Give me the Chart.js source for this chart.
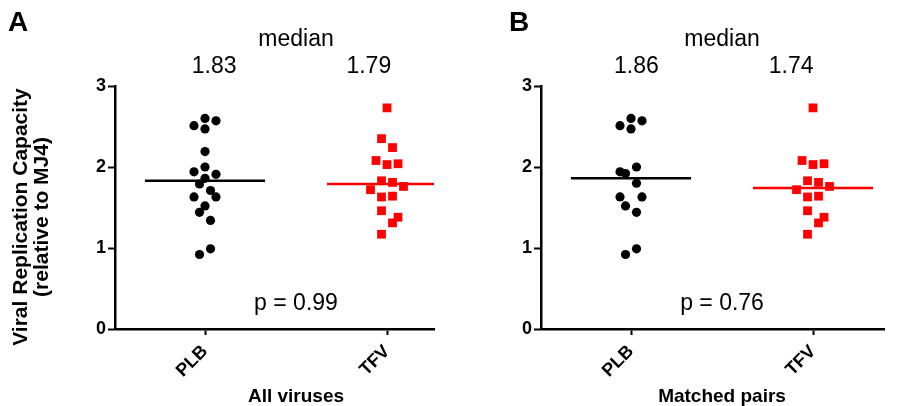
<!DOCTYPE html>
<html>
<head>
<meta charset="utf-8">
<script src="https://cdn.jsdelivr.net/npm/chart.js@4/dist/chart.umd.min.js"></script>
<style>
  body { margin: 0; background: #fff; }
  #wrap { position: relative; width: 901px; height: 406px; }
  #wrap canvas { position: absolute; top: 0; }
</style>
</head>
<body>
<div id="wrap">
  <canvas id="chartA" width="450" height="406" style="left:0"></canvas>
  <canvas id="chartB" width="451" height="406" style="left:450px"></canvas>
</div>
<script>
// categories
var groups = ["PLB", "TFV"];

// panel A: all viruses
var allPLB = [2.60, 2.51, 2.57, 2.47, 2.19, 2.00, 1.94, 1.91, 1.86, 1.79, 1.71, 1.63, 1.63, 1.52, 1.44, 1.34, 0.99, 0.92];
var allPLBjit = [0, -2, 2, 0, 0, 0, -2, 2, 0, -1, 1, -2, 2, 0, -1, 1, 1, -1];
var allTFV = [2.73, 2.35, 2.24, 2.08, 2.03, 2.04, 1.83, 1.81, 1.76, 1.72, 1.63, 1.64, 1.46, 1.38, 1.31, 1.17];
var allTFVjit = [0, -1, 1, -2, 0, 2, -1, 1, 3, -3, -1, 1, -1, 2, 1, -1];
var allMedians = [1.83, 1.79];
var allP = "p = 0.99";

// panel B: matched pairs
var pairPLB = [2.60, 2.51, 2.57, 2.47, 1.94, 1.92, 2.00, 1.80, 1.63, 1.63, 1.52, 1.44, 0.99, 0.92];
var pairPLBjit = [0, -2, 2, 0, -2, -1, 1, 1, -2, 2, -1, 1, 1, -1];
var pairTFV = [2.73, 2.08, 2.03, 2.04, 1.83, 1.81, 1.76, 1.72, 1.63, 1.64, 1.46, 1.38, 1.31, 1.17];
var pairTFVjit = [0, -2, 0, 2, -1, 1, 3, -3, -1, 1, -1, 2, 1, -1];
var pairMedians = [1.86, 1.74];
var pairP = "p = 0.76";

var yTicks = [0, 1, 2, 3];
var colors = ["#000000", "#ff0000"];
var JIT = 0.0302;   // half-slot width in category units
var HALF = 0.33;    // median bar half width
var FONT = "'Liberation Sans', Arial, sans-serif";

function pts(vals, jit, cat) {
  return vals.map(function (v, i) { return { x: cat + jit[i] * JIT, y: v }; });
}

function medianLine(m, cat) {
  return [{ x: cat - HALF, y: m }, { x: cat + HALF, y: m }];
}

var textPlugin = {
  id: "texts",
  afterDraw: function (chart) {
    var o = chart.options.plugins.texts;
    var ctx = chart.ctx;
    var xs = chart.scales.x, ys = chart.scales.y;
    var mid = (xs.getPixelForValue(0) + xs.getPixelForValue(1)) / 2;
    ctx.save();
    ctx.fillStyle = "#000";
    ctx.textAlign = "center";
    ctx.textBaseline = "middle";
    ctx.font = "23px " + FONT;
    ctx.fillText("median", mid, 40);
    o.medians.forEach(function (m, i) {
      ctx.fillText(m.toFixed(2), xs.getPixelForValue(i + o.valShift[i]), 67);
    });
    ctx.fillText(o.p, mid, ys.getPixelForValue(0.31));
    ctx.font = "bold 19px " + FONT;
    ctx.fillText(o.xTitle, mid, 397);
    ctx.font = "bold 28px " + FONT;
    ctx.textAlign = "left";
    ctx.fillText(o.letter, o.letterX, 23);
    if (o.yTitle) {
      ctx.font = "bold 21px " + FONT;
      ctx.textAlign = "center";
      ctx.translate(0, 217);
      ctx.rotate(-Math.PI / 2);
      ctx.fillText(o.yTitle[0], 0, 21);
      ctx.fillText(o.yTitle[1], 0, 42);
    }
    ctx.restore();
  }
};

function makeChart(id, a, b, aj, bj, medians, p, opts) {
  new Chart(document.getElementById(id), {
    type: "scatter",
    data: {
      datasets: [
        { data: pts(a, aj, 0), pointStyle: "circle", pointRadius: 4.6, backgroundColor: colors[0], borderWidth: 0 },
        { data: pts(b, bj, 1), pointStyle: "rect", pointRadius: 6.2, backgroundColor: colors[1], borderWidth: 0 },
        { type: "line", data: medianLine(medians[0], 0), borderColor: colors[0], borderWidth: 2.5, pointRadius: 0 },
        { type: "line", data: medianLine(medians[1], 1), borderColor: colors[1], borderWidth: 2.5, pointRadius: 0 }
      ]
    },
    options: {
      responsive: false,
      animation: false,
      layout: { padding: { top: 86, right: opts.right, bottom: 0, left: 0 } },
      plugins: {
        legend: { display: false },
        tooltip: { enabled: false },
        texts: {
          medians: medians, p: p, xTitle: opts.xTitle, letter: opts.letter,
          letterX: opts.letterX, yTitle: opts.yTitle, valShift: opts.valShift
        }
      },
      scales: {
        x: {
          type: "linear",
          min: -0.4945,
          max: opts.xmax,
          afterBuildTicks: function (s) { s.ticks = [{ value: 0 }, { value: 1 }]; },
          afterFit: function (s) { s.height = 77; },
          ticks: {
            callback: function (v) { return groups[v]; },
            color: "#000",
            font: { family: FONT, size: 18, weight: "bold" },
            minRotation: 45,
            maxRotation: 45,
            padding: 6
          },
          grid: { display: true, drawOnChartArea: false, drawTicks: true, tickLength: 6, tickWidth: 2, tickColor: "#000" },
          border: { display: true, color: "#000", width: 2.5 }
        },
        y: {
          min: 0,
          max: 3,
          afterBuildTicks: function (s) { s.ticks = yTicks.map(function (v) { return { value: v }; }); },
          afterFit: function (s) { s.width = opts.left; },
          ticks: {
            color: "#000",
            font: { family: FONT, size: 18, weight: "bold" },
            padding: 2
          },
          grid: { display: true, drawOnChartArea: false, drawTicks: true, tickLength: 7, tickWidth: 2, tickColor: "#000" },
          border: { display: true, color: "#000", width: 2.5 }
        }
      }
    },
    plugins: [textPlugin]
  });
}

makeChart("chartA", allPLB, allTFV, allPLBjit, allTFVjit, allMedians, allP, {
  left: 115, right: 16, xmax: 1.2582, xTitle: "All viruses", letter: "A", letterX: 8,
  yTitle: ["Viral Replication Capacity", "(relative to MJ4)"], valShift: [0.05, -0.1]
});
makeChart("chartB", pairPLB, pairTFV, pairPLBjit, pairTFVjit, pairMedians, pairP, {
  left: 91, right: 17, xmax: 1.390, xTitle: "Matched pairs", letter: "B", letterX: 59,
  yTitle: null, valShift: [0.03, -0.12]
});
</script>
</body>
</html>
